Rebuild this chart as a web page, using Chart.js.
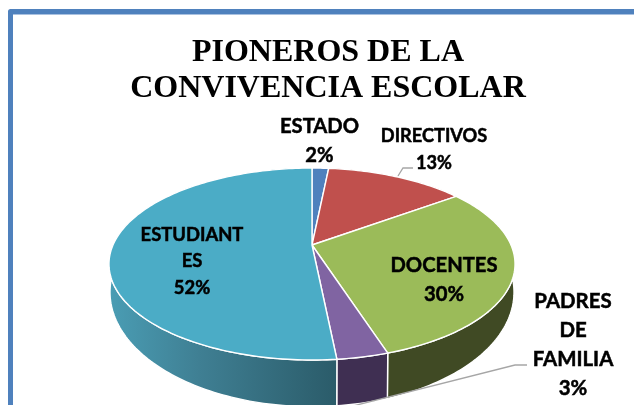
<!DOCTYPE html>
<html><head><meta charset="utf-8">
<style>html,body{margin:0;padding:0;background:#fff;overflow:hidden;width:634px;height:405px}canvas{display:block}</style>
<script src="https://cdn.jsdelivr.net/npm/chart.js@4/dist/chart.umd.min.js"></script>
</head><body>
<div style="width:656px;height:405px"><canvas id="c" width="656" height="405"></canvas></div>
<script>
const categories = ["ESTADO","DIRECTIVOS","DOCENTES","PADRES DE FAMILIA","ESTUDIANTES"];
const values = [1.6,13.4,30,3.4,51.6];
const sliceColors = ["#4F81BD","#C0504D","#9BBB59","#8064A2","#4BACC6"];
const sideColors = ["#2A4466","#662A28","#404A24","#3F2F52","#2B5C6A"];
const titleLines = ["PIONEROS DE LA","CONVIVENCIA ESCOLAR"];
const labelLines = [["ESTADO"],["DIRECTIVOS"],["DOCENTES"],["PADRES","DE","FAMILIA"],["ESTUDIANT","ES"]];
const labelLayout = [
 {x:319.5,y:126,lh:29,size:20.2},
 {x:434,y:136,lh:27,size:18.2},
 {x:444,y:265,lh:29,size:20.2},
 {x:573,y:301,lh:29.3,size:20.4},
 {x:192,y:235,lh:26.5,size:18.4}
];
const leaders = [[[398,176],[403,168],[413,168]],[[345,408],[515,365],[527,365]]];
const C = -0.198;
const topRim = {x:312,y:245,dx:199,k:92.2};
const lowRim = {x:312,y:269.5,dx:198,k:110};
function proj(r,a){const u=Math.cos(a),v=Math.sin(a),w=1+C*v;return [r.x+r.dx*u/w,r.y+r.k*v/w];}
function rimPts(r,a0,a1){const n=Math.max(2,Math.ceil((a1-a0)/0.02)),p=[];for(let i=0;i<=n;i++)p.push(proj(r,a0+(a1-a0)*i/n));return p;}
const pie3d = {
 id:'pie3d',
 beforeDraw(chart){
  const g=chart.ctx;g.save();
  g.strokeStyle='#4F81BD';g.lineWidth=5;g.lineJoin='round';
  g.strokeRect(10.5,11.5,700,500);
  g.strokeStyle='#A9C1E0';g.lineWidth=1;
  g.beginPath();g.moveTo(13,14.5);g.lineTo(700,14.5);g.stroke();
  g.restore();
 },
 beforeDatasetDraw(chart){
  const g=chart.ctx,arcs=chart.getDatasetMeta(0).data;
  g.save();
  g.lineJoin='round';
  arcs.forEach((el,i)=>{
   const pt=rimPts(topRim,el.startAngle,el.endAngle),pb=rimPts(lowRim,el.startAngle,el.endAngle);
   g.beginPath();
   pt.forEach((p,j)=>j?g.lineTo(p[0],p[1]):g.moveTo(p[0],p[1]));
   pb.reverse().forEach(p=>g.lineTo(p[0],p[1]));
   g.closePath();
   if(i===4){const lg=g.createLinearGradient(109,0,335,0);lg.addColorStop(0,'#4A9DB4');lg.addColorStop(0.4,'#3F7F93');lg.addColorStop(1,sideColors[4]);g.fillStyle=lg;}
   else g.fillStyle=sideColors[i];
   g.fill();
   g.strokeStyle='#fff';g.lineWidth=1.4;g.stroke();
  });
  arcs.forEach((el,i)=>{
   const pt=rimPts(topRim,el.startAngle,el.endAngle);
   g.beginPath();g.moveTo(topRim.x,topRim.y);
   pt.forEach(p=>g.lineTo(p[0],p[1]));
   g.closePath();
   g.fillStyle=sliceColors[i];g.fill();
   g.strokeStyle='#fff';g.lineWidth=1.4;g.stroke();
  });
  g.restore();
  return false;
 },
 afterDatasetsDraw(chart){
  const g=chart.ctx;g.save();
  g.strokeStyle='#A6A6A6';g.lineWidth=1.3;
  leaders.forEach(l=>{g.beginPath();l.forEach((p,j)=>j?g.lineTo(p[0],p[1]):g.moveTo(p[0],p[1]));g.stroke();});
  g.fillStyle='#000';g.strokeStyle='#000';g.lineWidth=0.5;g.textAlign='center';g.textBaseline='middle';
  const total=values.reduce((a,b)=>a+b,0);
  labelLines.forEach((lines,i)=>{
   const L=labelLayout[i];
   g.font='bold '+L.size+'px Lato';
   const all=lines.concat([Math.round(values[i]/total*100)+'%']);
   all.forEach((t,j)=>{g.fillText(t,L.x,L.y+j*L.lh);g.strokeText(t,L.x,L.y+j*L.lh);});
  });
  g.restore();
 }
};
new Chart(document.getElementById('c'),{
 type:'pie',
 data:{labels:categories,datasets:[{data:values,backgroundColor:sliceColors,borderColor:'#fff'}]},
 options:{
  responsive:false,animation:false,
  events:[],
  plugins:{
   legend:{display:false},tooltip:{enabled:false},
   title:{display:true,text:titleLines,color:'#000',
    font:{family:'"Liberation Serif"',weight:'bold',size:32,lineHeight:1.125},
    padding:{top:35,bottom:0}}
  }
 },
 plugins:[pie3d]
});
</script>
</body></html>
